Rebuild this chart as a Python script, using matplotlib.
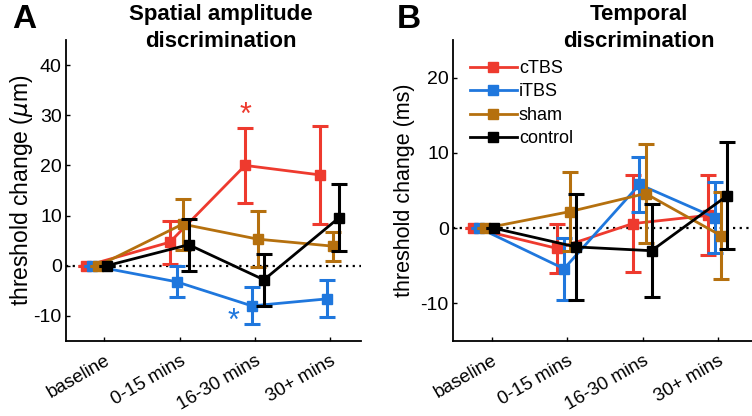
import matplotlib
matplotlib.use("Agg")
import matplotlib.pyplot as plt
from matplotlib.lines import Line2D
from matplotlib.transforms import ScaledTranslation
import numpy as np

plt.rcParams['font.family'] = ['Liberation Sans', 'DejaVu Sans']
plt.rcParams['axes.unicode_minus'] = False

categories = ["baseline", "0-15 mins", "16-30 mins", "30+ mins"]
series = ["cTBS", "iTBS", "sham", "control"]
colors = {"cTBS": "#ee3a2e", "iTBS": "#1f77dd", "sham": "#b5700e", "control": "#000000"}

# Panel A: spatial amplitude discrimination (threshold change, um)
spatial_mean = {
    "cTBS":    [0, 4.7, 20.0, 18.1],
    "iTBS":    [0, -3.2, -8.0, -6.6],
    "sham":    [0, 8.3, 5.3, 3.9],
    "control": [0, 4.2, -2.8, 9.6],
}
spatial_err = {
    "cTBS":    [0, 4.3, 7.4, 9.8],
    "iTBS":    [0, 3.1, 3.7, 3.7],
    "sham":    [0, 5.1, 5.6, 2.9],
    "control": [0, 5.2, 5.2, 6.7],
}

# Panel B: temporal discrimination (threshold change, ms)
temporal_mean = {
    "cTBS":    [0, -2.7, 0.6, 1.7],
    "iTBS":    [0, -5.4, 5.8, 1.4],
    "sham":    [0, 2.2, 4.6, -1.0],
    "control": [0, -2.5, -3.0, 4.3],
}
temporal_err = {
    "cTBS":    [0, 3.3, 6.4, 5.3],
    "iTBS":    [0, 4.1, 3.6, 4.7],
    "sham":    [0, 5.3, 6.6, 5.8],
    "control": [0, 7.0, 6.2, 7.1],
}

# horizontal jitter per series (baseline, later points)
offset_base = {"cTBS": -0.24, "iTBS": -0.16, "sham": -0.08, "control": 0.03}
offset_rest = {"cTBS": -0.13, "iTBS": -0.04, "sham": 0.04, "control": 0.12}

fig = plt.figure(figsize=(7.52, 4.16), dpi=100)
axA = fig.add_axes([66/752, 1-341/416, (361-66)/752, 301/416])
axB = fig.add_axes([453/752, 1-341/416, (752-453)/752, 301/416])

xpos = np.arange(1, len(categories) + 1)


def draw(ax, means, errs, ylim, yticks, ylabel, xlim, labelpad, ylsize):
    ax.axhline(0, color='black', lw=1.6, ls=(0, (1, 2)), zorder=1)
    for i, s in enumerate(series):
        xs = np.array([xpos[0] + offset_base[s]] + [x + offset_rest[s] for x in xpos[1:]])
        ax.errorbar(xs, means[s], yerr=errs[s], color=colors[s], lw=2.0,
                    elinewidth=2.2, capsize=5.5, capthick=2.2, marker='s',
                    markersize=7, label=s, zorder=2 + i)
    ax.set_xlim(*xlim)
    ax.set_ylim(*ylim)
    ax.set_yticks(yticks)
    ax.set_xticks(xpos)
    ax.set_xticklabels(categories, rotation=30, ha='right', va='top',
                       rotation_mode='anchor', fontsize=13.5)
    shift = ScaledTranslation(16/100, 0, fig.dpi_scale_trans)
    for lab in ax.get_xticklabels():
        lab.set_transform(lab.get_transform() + shift)
    ax.tick_params(axis='y', labelsize=14, direction='in', length=3, width=1, pad=3)
    ax.tick_params(axis='x', direction='in', length=3, width=1, pad=8)
    ax.set_ylabel(ylabel, fontsize=ylsize, labelpad=labelpad)
    for sp in ['top', 'right']:
        ax.spines[sp].set_visible(False)
    for sp in ['left', 'bottom']:
        ax.spines[sp].set_linewidth(1.3)


draw(axA, spatial_mean, spatial_err, (-15, 45), [-10, 0, 10, 20, 30, 40],
     r"threshold change ($\mu$m)", (0.49, 4.41), -1, 16.5)
draw(axB, temporal_mean, temporal_err, (-15, 25), [-10, 0, 10, 20],
     "threshold change (ms)", (0.49, 4.45), 4, 15.5)

# significance markers
axA.text(3 + offset_rest["cTBS"], 29.8, "*", color=colors["cTBS"], fontsize=22,
         ha='center', va='center')
axA.text(3 - 0.28, -11.2, "*", color=colors["iTBS"], fontsize=22,
         ha='center', va='center')

handles = [Line2D([], [], color=colors[s], lw=2.0, marker='s', markersize=7) for s in series]
leg = axB.legend(handles, series, loc='upper left', bbox_to_anchor=(0.02, 0.97),
                 frameon=False, fontsize=13, handlelength=2.6, handletextpad=0.12,
                 labelspacing=0.36, borderaxespad=0.2)

fig.text(221/752, 1-28/416, "Spatial amplitude\ndiscrimination", ha='center',
         va='center', fontsize=16, fontweight='bold', linespacing=1.35)
fig.text(639/752, 1-28/416, "Temporal\ndiscrimination", ha='center',
         va='center', fontsize=16, fontweight='bold', linespacing=1.35)
fig.text(12/752, 1-19/416, "A", fontsize=24, fontweight='bold', ha='left', va='center')
fig.text(397/752, 1-19/416, "B", fontsize=24, fontweight='bold', ha='left', va='center')

fig.savefig("out.png", dpi=100)
